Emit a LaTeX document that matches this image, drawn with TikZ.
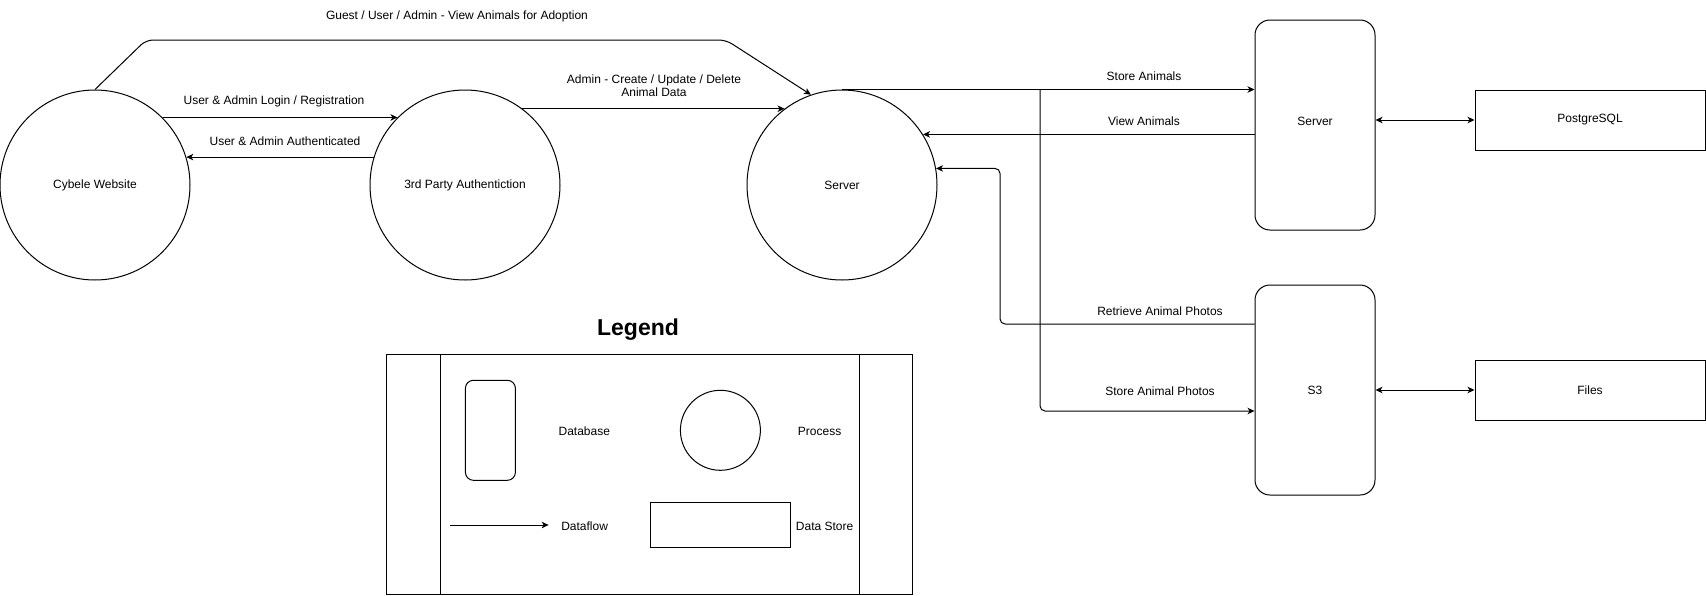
\documentclass[tikz,border=0pt]{standalone}
\usepackage{fontspec}
\setmainfont{Liberation Sans}
\usetikzlibrary{arrows.meta,calc}
\begin{document}
\begin{tikzpicture}[x=1pt,y=-1pt,line width=1pt,
  every node/.style={font=\fontsize{12}{14}\selectfont},
  proc/.style={draw,circle,minimum size=190pt,inner sep=0pt},
  dbbox/.style={draw,rounded corners=15pt,minimum width=120pt,minimum height=210pt,inner sep=0pt},
  store/.style={draw,minimum width=230pt,minimum height=60pt,inner sep=0pt},
  lbl/.style={inner sep=0pt,align=center},
  flow/.style={-{Stealth[length=7pt,width=6.5pt,inset=2pt]}},
  biflow/.style={{Stealth[length=7pt,width=6.5pt,inset=2pt]}-{Stealth[length=7pt,width=6.5pt,inset=2pt]}}
]
\useasboundingbox (0,0) rectangle (1706,595);

% processes
\node[proc] (cyb) at (95,185) {Cybele Website};
\node[proc] (auth) at (465,185) {3rd Party Authentiction};
\node[proc] (srv) at (842,185) {Server};

% databases
\node[dbbox] (db) at (1315,125) {};
\node[lbl] (dbt) at (1315,121) {Server};
\node[dbbox] (s3) at (1315,390) {S3};

% data stores
\node[store] (pg) at (1590,120) {PostgreSQL};
\node[store] (files) at (1590,390) {Files};

% flows
\coordinate (g1) at (146,40);
\coordinate (g2) at (726,40);
\draw[flow,rounded corners=7pt] (cyb.north) -- (g1) -- (g2) -- (srv.109);
\node[lbl] (lg) at (457,16) {Guest / User / Admin - View Animals for Adoption};

\draw[flow] (cyb.45) -- (auth.135);
\node[lbl] (ll) at (274,101) {User \& Admin Login / Registration};

\draw[flow] (auth.163) -- (cyb.17);
\node[lbl] (la) at (285,141) {User \& Admin Authenticated};

\draw[flow] (auth.53) -- (srv.127);
\node[lbl] (lc) at (654,86) {Admin - Create / Update / Delete\\[-1pt]Animal Data};

\draw[flow] (srv.north) -- (srv.north -| db.west);
\node[lbl] (lsa) at (1144,76) {Store Animals};

\coordinate (sp) at (1040,411);
\draw[flow,rounded corners=5pt] (sp |- srv.north) -- (sp) -- (sp -| s3.west);
\node[lbl] (lsp) at (1160,391) {Store Animal Photos};

\draw[flow] (srv.32 -| db.west) -- (srv.32);
\node[lbl] (lva) at (1144,121) {View Animals};

\coordinate (rp) at (1000,324);
\draw[flow,rounded corners=5pt] (rp -| s3.west) -- (rp) |- (srv.10);
\node[lbl] (lrp) at (1160,311) {Retrieve Animal Photos};

\draw[biflow] (pg.west -| db.east) -- (pg.west);
\draw[biflow] (s3.east) -- (files.west);

% legend
\node[inner sep=0pt,font=\fontsize{23}{26}\selectfont\bfseries] (lt) at (638,330) {Legend};
\node[draw,minimum width=525.5pt,minimum height=240pt,inner sep=0pt] (leg) at (649.7,474.3) {};
\draw (440.4,354.3) -- (440.4,594.3);
\draw (859.3,354.3) -- (859.3,594.3);
\node[draw,rounded corners=8pt,minimum width=50pt,minimum height=100pt,inner sep=0pt] (ldb) at (490.4,430.3) {};
\node[lbl] (ldbt) at (584.3,431) {Database};
\node[draw,circle,minimum size=80pt,inner sep=0pt] (lpr) at (720.4,430.3) {};
\node[lbl] (lprt) at (819.6,431) {Process};
\coordinate (dfa) at (450.4,525);
\coordinate (dfb) at (548.6,525);
\draw[flow] (dfa) -- (dfb);
\node[lbl] (ldft) at (584.6,526) {Dataflow};
\node[draw,minimum width=140pt,minimum height=45pt,inner sep=0pt] (lds) at (720.4,525.3) {};
\node[lbl] (ldst) at (824.6,526) {Data Store};
\end{tikzpicture}
\end{document}
